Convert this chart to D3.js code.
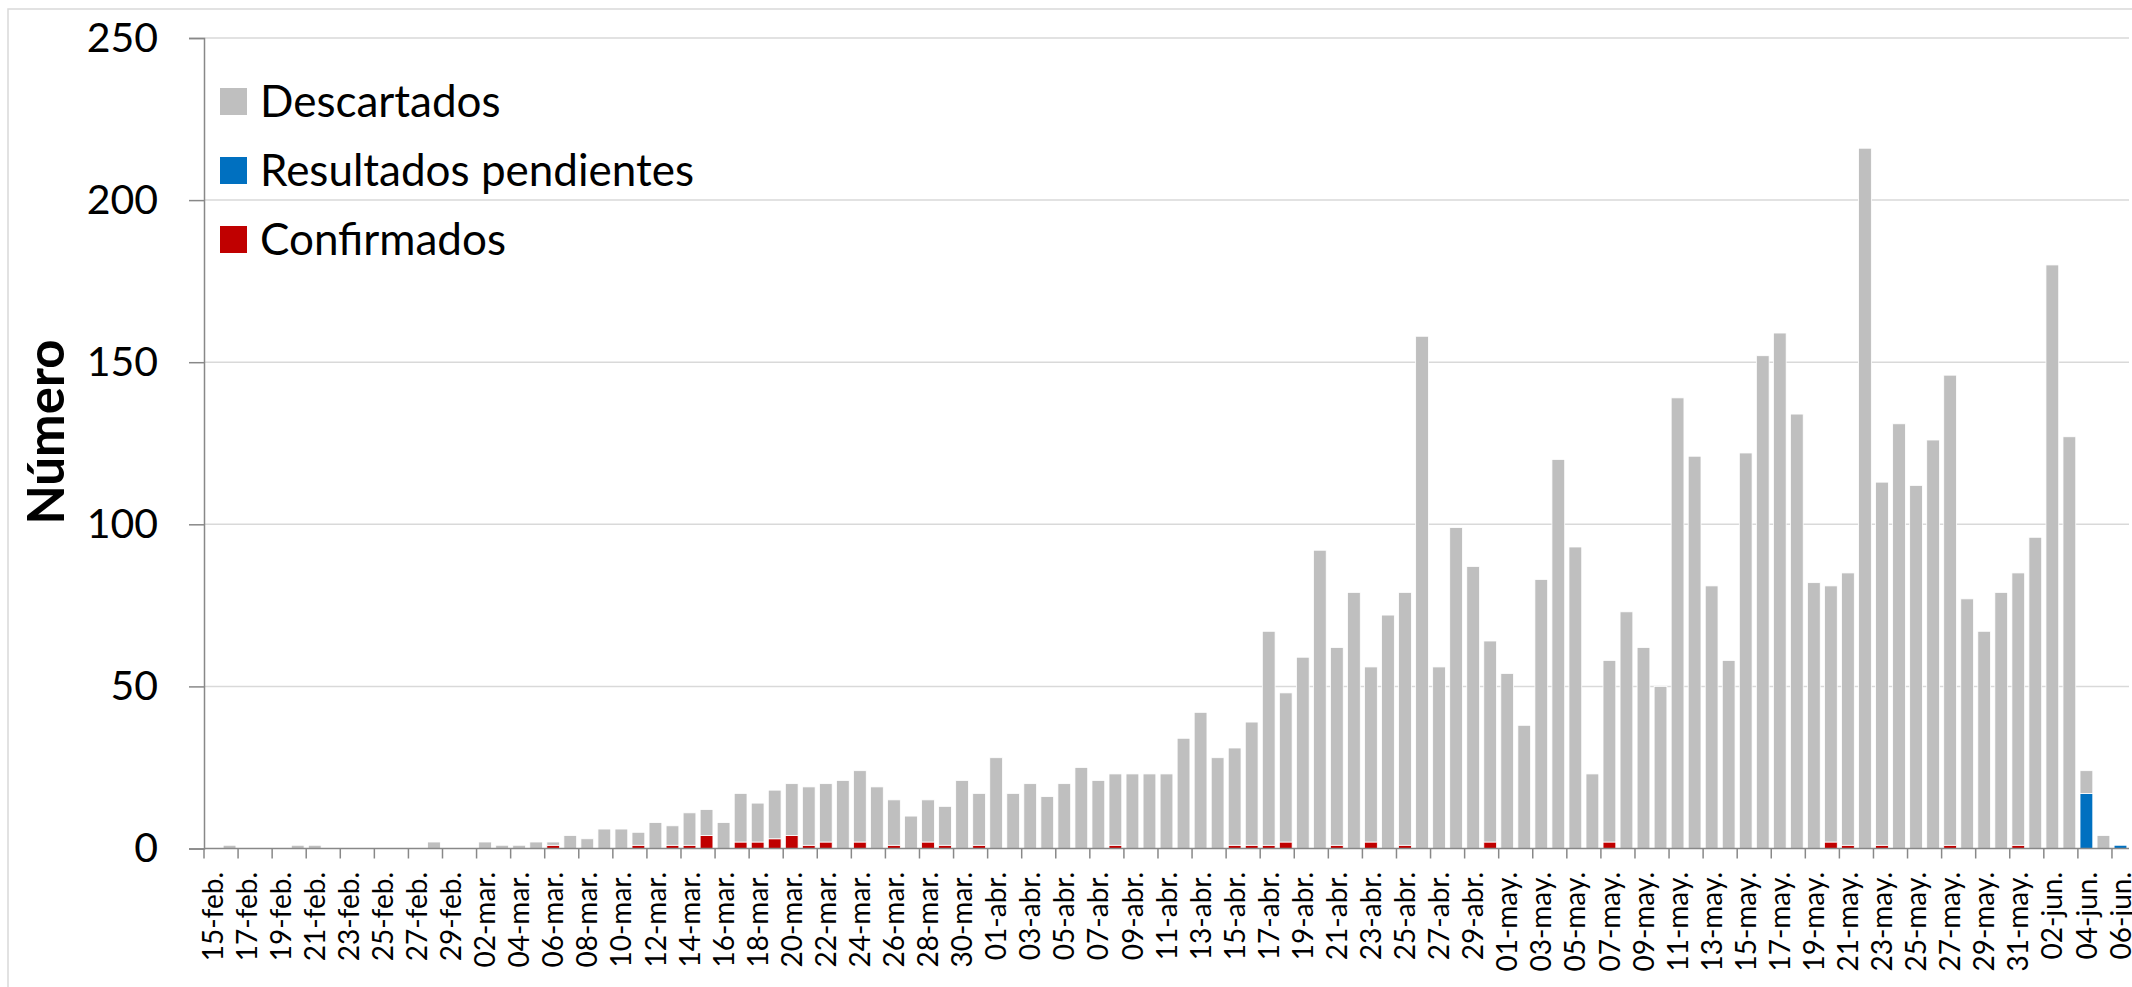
<!DOCTYPE html>
<html>
<head>
<meta charset="utf-8">
<script src="https://cdn.jsdelivr.net/npm/d3@7"></script>
<style>
  body { margin: 0; background: #fff; }
  svg { display: block; font-family: Lato, "Open Sans", sans-serif; }
</style>
</head>
<body>
<svg id="chart" width="2132" height="987"></svg>
<script>
// categories: one bar per day, 15-feb to 06-jun
const categories = [
  "15-feb.","16-feb.","17-feb.","18-feb.","19-feb.","20-feb.","21-feb.","22-feb.","23-feb.","24-feb.",
  "25-feb.","26-feb.","27-feb.","28-feb.","29-feb.",
  "01-mar.","02-mar.","03-mar.","04-mar.","05-mar.","06-mar.","07-mar.","08-mar.","09-mar.","10-mar.",
  "11-mar.","12-mar.","13-mar.","14-mar.","15-mar.","16-mar.","17-mar.","18-mar.","19-mar.","20-mar.",
  "21-mar.","22-mar.","23-mar.","24-mar.","25-mar.","26-mar.","27-mar.","28-mar.","29-mar.","30-mar.","31-mar.",
  "01-abr.","02-abr.","03-abr.","04-abr.","05-abr.","06-abr.","07-abr.","08-abr.","09-abr.","10-abr.",
  "11-abr.","12-abr.","13-abr.","14-abr.","15-abr.","16-abr.","17-abr.","18-abr.","19-abr.","20-abr.",
  "21-abr.","22-abr.","23-abr.","24-abr.","25-abr.","26-abr.","27-abr.","28-abr.","29-abr.","30-abr.",
  "01-may.","02-may.","03-may.","04-may.","05-may.","06-may.","07-may.","08-may.","09-may.","10-may.",
  "11-may.","12-may.","13-may.","14-may.","15-may.","16-may.","17-may.","18-may.","19-may.","20-may.",
  "21-may.","22-may.","23-may.","24-may.","25-may.","26-may.","27-may.","28-may.","29-may.","30-may.","31-may.",
  "01-jun.","02-jun.","03-jun.","04-jun.","05-jun.","06-jun."
];

// series values (same order as categories)
const descartados = [
  0,1,0,0,0,1,1,0,0,0,0,0,0,2,0,                                   // feb
  0,2,1,1,2,1,4,3,6,6,4,8,6,10,8,8,15,12,15,16,18,18,21,22,19,14,10,13,12,21,16, // mar
  28,17,20,16,20,25,21,22,23,23,23,34,42,28,30,38,66,46,59,92,61,79,54,72,78,158,56,99,87,62, // abr
  54,38,83,120,93,23,56,73,62,50,139,121,81,58,122,152,159,134,82,79,84,216,112,131,112,126,145,77,67,79,84, // may
  96,180,127,7,4,0                                                  // jun
];
const pendientes = [
  0,0,0,0,0,0,0,0,0,0,0,0,0,0,0,
  0,0,0,0,0,0,0,0,0,0,0,0,0,0,0,0,0,0,0,0,0,0,0,0,0,0,0,0,0,0,0,
  0,0,0,0,0,0,0,0,0,0,0,0,0,0,0,0,0,0,0,0,0,0,0,0,0,0,0,0,0,0,
  0,0,0,0,0,0,0,0,0,0,0,0,0,0,0,0,0,0,0,0,0,0,0,0,0,0,0,0,0,0,0,
  0,0,0,17,0,1
];
const confirmados = [
  0,0,0,0,0,0,0,0,0,0,0,0,0,0,0,
  0,0,0,0,0,1,0,0,0,0,1,0,1,1,4,0,2,2,3,4,1,2,0,2,0,1,0,2,1,0,1,
  0,0,0,0,0,0,0,1,0,0,0,0,0,0,1,1,1,2,0,0,1,0,2,0,1,0,0,0,0,2,
  0,0,0,0,0,0,2,0,0,0,0,0,0,0,0,0,0,0,0,2,1,0,1,0,0,0,1,0,0,0,1,
  0,0,0,0,0,0
];

const yTicks = [0, 50, 100, 150, 200, 250];

const seriesKeys = ["Confirmados", "Resultados pendientes", "Descartados"];
const colors = {
  "Confirmados": "#C00000",
  "Resultados pendientes": "#0070C0",
  "Descartados": "#BFBFBF"
};
const legendOrder = ["Descartados", "Resultados pendientes", "Confirmados"];

const rows = categories.map((c, i) => ({
  cat: c,
  "Confirmados": confirmados[i],
  "Resultados pendientes": pendientes[i],
  "Descartados": descartados[i]
}));

const svg = d3.select("#chart");

const plotLeft = 204, plotRight = 2129, plotTop = 38, plotBottom = 848.5;

const x = d3.scaleBand()
  .domain(categories)
  .range([plotLeft, plotRight])
  .paddingInner(0.25)
  .paddingOuter(0.125);

const y = d3.scaleLinear().domain([0, 250]).range([plotBottom, plotTop]);

// chart area border (only top/left visible in the crop)
svg.append("rect")
  .attr("x", 8).attr("y", 9)
  .attr("width", 2200).attr("height", 1100)
  .attr("fill", "none")
  .attr("stroke", "#d9d9d9")
  .attr("stroke-width", 1.5);

// gridlines
svg.append("g")
  .selectAll("line")
  .data(yTicks.filter(d => d > 0))
  .enter().append("line")
    .attr("x1", plotLeft).attr("x2", plotRight)
    .attr("y1", d => y(d)).attr("y2", d => y(d))
    .attr("stroke", "#d9d9d9")
    .attr("stroke-width", 1.5);

// stacked bars
const stacked = d3.stack().keys(seriesKeys)(rows);
svg.append("g")
  .selectAll("g")
  .data(stacked)
  .enter().append("g")
    .attr("fill", d => colors[d.key])
  .selectAll("rect")
  .data(d => d.filter(s => s[1] - s[0] > 0))
  .enter().append("rect")
    .attr("x", d => x(d.data.cat))
    .attr("width", x.bandwidth())
    .attr("y", d => y(d[1]))
    .attr("height", d => y(d[0]) - y(d[1]))
    .attr("stroke", "#fff")
    .attr("stroke-width", 0.8);

// y axis
const yAxis = svg.append("g")
  .attr("transform", `translate(${plotLeft},0)`)
  .call(d3.axisLeft(y).tickValues(yTicks).tickSize(15).tickPadding(31));
yAxis.select(".domain").attr("stroke", "#888").attr("stroke-width", 1.5);
yAxis.selectAll(".tick line").attr("stroke", "#888").attr("stroke-width", 1.5);
yAxis.selectAll(".tick text")
  .attr("font-size", 41)
  .attr("font-family", "Lato, sans-serif")
  .attr("fill", "#000");

// x axis line
svg.append("line")
  .attr("x1", plotLeft).attr("x2", plotRight)
  .attr("y1", plotBottom).attr("y2", plotBottom)
  .attr("stroke", "#888")
  .attr("stroke-width", 1.5);

// x ticks every two categories, at band boundaries
const gap = x.step() - x.bandwidth();
svg.append("g")
  .selectAll("line")
  .data(categories.filter((c, i) => i % 2 === 0))
  .enter().append("line")
    .attr("x1", d => x(d) - gap / 2).attr("x2", d => x(d) - gap / 2)
    .attr("y1", plotBottom).attr("y2", plotBottom + 10)
    .attr("stroke", "#888")
    .attr("stroke-width", 1.5);

// x labels (every other day)
svg.append("g")
  .selectAll("text")
  .data(categories.filter((c, i) => i % 2 === 0))
  .enter().append("text")
    .attr("transform", d => `translate(${x(d) + x.bandwidth() / 2},872) rotate(-90)`)
    .attr("text-anchor", "end")
    .attr("dy", "0.36em")
    .attr("font-size", 28)
    .attr("fill", "#000")
    .text(d => d);

// y axis title
svg.append("text")
  .attr("transform", "translate(64,432) rotate(-90)")
  .attr("text-anchor", "middle")
  .attr("font-size", 51)
  .attr("font-weight", "bold")
  .attr("fill", "#000")
  .text("Número");

// legend
const legend = svg.append("g")
  .selectAll("g")
  .data(legendOrder)
  .enter().append("g")
    .attr("transform", (d, i) => `translate(220,${88 + i * 69})`);
legend.append("rect")
  .attr("width", 27).attr("height", 27)
  .attr("fill", d => colors[d]);
legend.append("text")
  .attr("x", 40).attr("y", 13.5)
  .attr("dy", "0.36em")
  .attr("font-size", 44)
  .attr("fill", "#000")
  .text(d => d);
</script>
</body>
</html>
